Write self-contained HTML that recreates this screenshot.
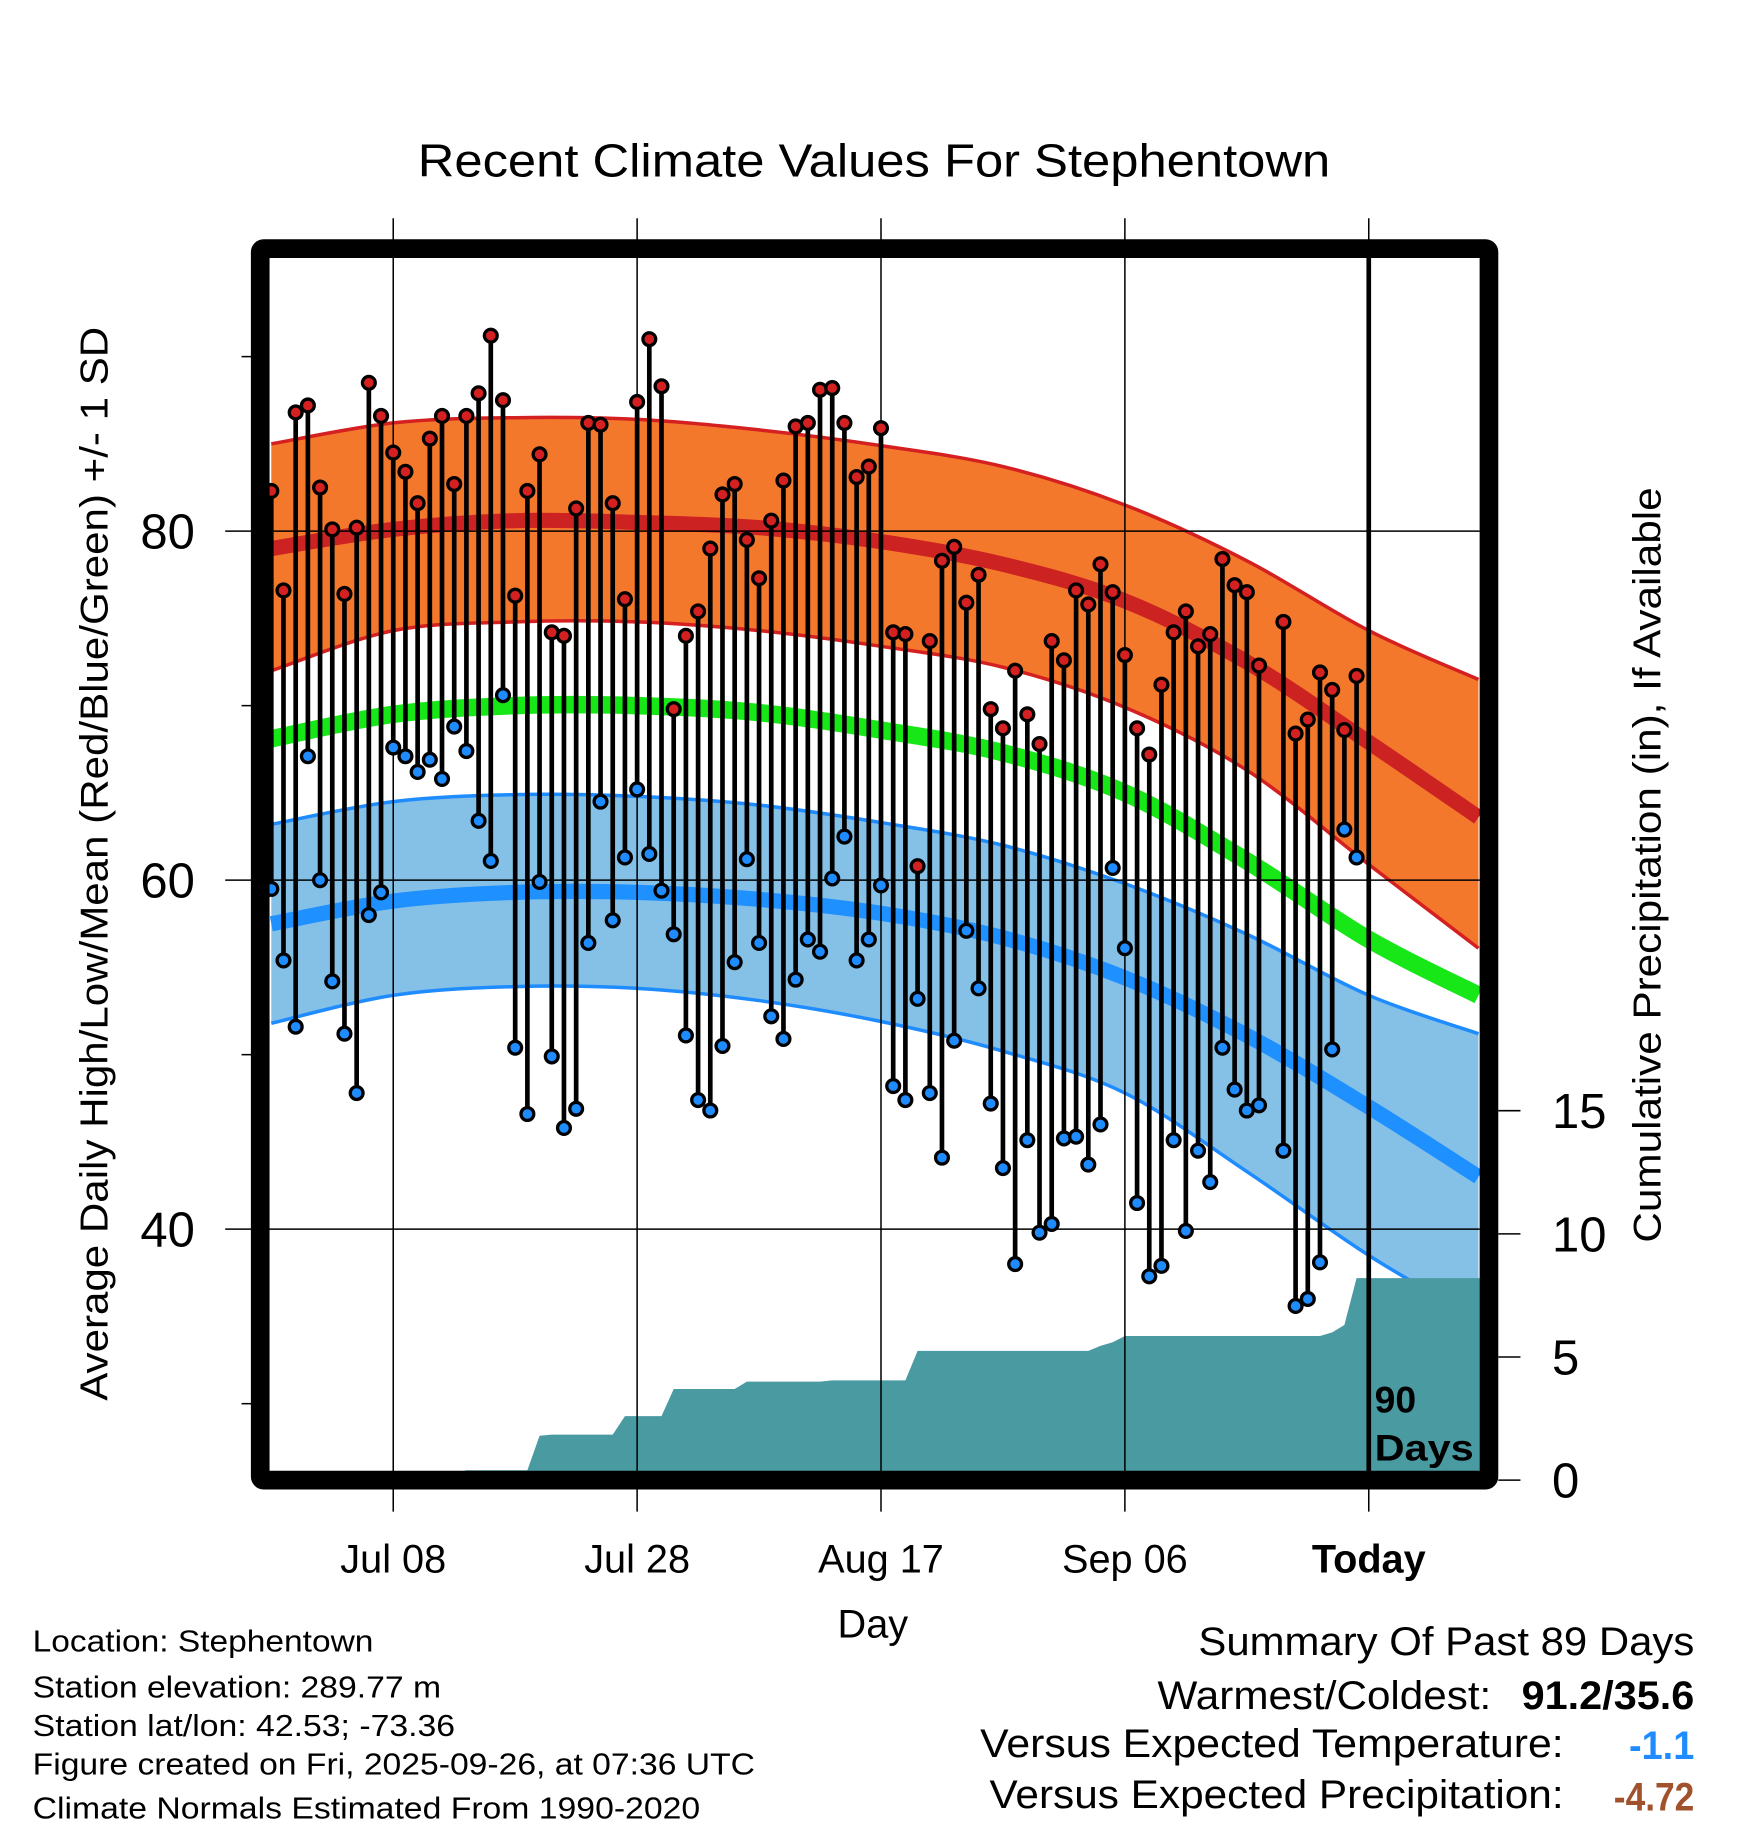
<!DOCTYPE html>
<html><head><meta charset="utf-8"><style>
html,body{margin:0;padding:0;background:#fff;}
svg{display:block;font-family:"Liberation Sans",sans-serif;}
</style></head><body>
<svg id="chart" width="1748" height="1828" viewBox="0 0 1498 1566" preserveAspectRatio="none" xmlns="http://www.w3.org/2000/svg">
<g id="bands"></g><g id="precip"></g><g id="grid"></g><g id="stems"></g><g id="frame"></g><g id="labels"></g>
</svg>
<script>
// ---- data ----
const highs=[82.3,76.6,86.8,87.2,82.5,80.1,76.4,80.2,88.5,86.6,84.5,83.4,81.6,85.3,86.6,82.7,86.6,87.9,91.2,87.5,76.3,82.3,84.4,74.2,74.0,81.3,86.2,86.1,81.6,76.1,87.4,91.0,88.3,69.8,74.0,75.4,79.0,82.1,82.7,79.5,77.3,80.6,82.9,86.0,86.2,88.1,88.2,86.2,83.1,83.7,85.9,74.2,74.1,60.8,73.7,78.3,79.1,75.9,77.5,69.8,68.7,72.0,69.5,67.8,73.7,72.6,76.6,75.8,78.1,76.5,72.9,68.7,67.2,71.2,74.2,75.4,73.4,74.1,78.4,76.9,76.5,72.3,null,74.8,68.4,69.2,71.9,70.9,68.6,71.7];
const lows=[59.5,55.4,51.6,67.1,60.0,54.2,51.2,47.8,58.0,59.3,67.6,67.1,66.2,66.9,65.8,68.8,67.4,63.4,61.1,70.6,50.4,46.6,59.9,49.9,45.8,46.9,56.4,64.5,57.7,61.3,65.2,61.5,59.4,56.9,51.1,47.4,46.8,50.5,55.3,61.2,56.4,52.2,50.9,54.3,56.6,55.9,60.1,62.5,55.4,56.6,59.7,48.2,47.4,53.2,47.8,44.1,50.8,57.1,53.8,47.2,43.5,38.0,45.1,39.8,40.3,45.2,45.3,43.7,46.0,60.7,56.1,41.5,37.3,37.9,45.1,39.9,44.5,42.7,50.4,48.0,46.8,47.1,null,44.5,35.6,36.0,38.1,50.3,62.9,61.3];
const precip=[0,0,0,0,0,0,0,0,0,0,0,0,0,0,0,0,0.4,0.4,0.4,0.4,0.4,0.4,1.8,1.85,1.85,1.85,1.85,1.85,1.85,2.6,2.6,2.6,2.6,3.7,3.7,3.7,3.7,3.7,3.7,4.0,4.0,4.0,4.0,4.0,4.0,4.0,4.05,4.05,4.05,4.05,4.05,4.05,4.05,5.25,5.25,5.25,5.25,5.25,5.25,5.25,5.25,5.25,5.25,5.25,5.25,5.25,5.25,5.25,5.45,5.6,5.85,5.85,5.85,5.85,5.85,5.85,5.85,5.85,5.85,5.85,5.85,5.85,5.85,5.85,5.85,5.85,5.85,6.0,6.3,8.2];
const normDays=[-10,0,10,20,30,40,50,60,70,80,89];
const hiMean=[79.0,80.1,80.6,80.5,80.2,79.4,78.1,76.0,72.5,67.9,63.6];
const hiUpper=[85.0,86.2,86.5,86.4,85.8,84.9,83.7,81.5,78.3,74.3,71.5];
const hiLower=[72.0,74.3,74.8,74.8,74.3,73.4,72.2,69.9,66.3,60.9,56.1];
const avgMean=[68.1,69.5,70.0,70.0,69.6,68.6,67.3,65.0,61.1,56.6,53.4];
const loMean=[57.5,58.8,59.3,59.3,58.9,58.1,56.7,54.4,51.1,47.0,43.0];
const loUpper=[63.2,64.5,64.9,64.8,64.3,63.3,62.0,59.8,56.9,53.4,51.2];
const loLower=[51.8,53.4,53.9,53.8,53.1,51.9,50.2,47.8,43.3,38.5,34.8];
const xTickDays=[0,20,40,60,80];
const xTickLabels=["Jul 08","Jul 28","Aug 17","Sep 06","Today"];
const yTicks=[80,60,40];
const yMinor=[90,70,50,30];
const pTicks=[0,5,10,15];
const firstDay=-10; // Jun 28 relative to Jul 08

// ---- axes ----
const X=d=>337+d*10.45;
const Y=t=>455+(80-t)*14.95;
const P=p=>1268-p*21.1;
const L=230, R=1268, T=220, B=1262;
const NS="http://www.w3.org/2000/svg";
function mk(tag,attrs,parent){const e=document.createElementNS(NS,tag);for(const k in attrs)e.setAttribute(k,attrs[k]);parent.appendChild(e);return e;}
const gB=document.getElementById('bands'),gP=document.getElementById('precip'),gG=document.getElementById('grid'),gS=document.getElementById('stems'),gF=document.getElementById('frame'),gL=document.getElementById('labels');

function pts(arr){return normDays.map((d,i)=>[X(d),Y(arr[i])]);}
function curve(p){let s='M'+p[0][0]+','+p[0][1];for(let i=0;i<p.length-1;i++){const p0=p[Math.max(i-1,0)],p1=p[i],p2=p[i+1],p3=p[Math.min(i+2,p.length-1)];s+=` C${p1[0]+(p2[0]-p0[0])/6},${p1[1]+(p2[1]-p0[1])/6} ${p2[0]-(p3[0]-p1[0])/6},${p2[1]-(p3[1]-p1[1])/6} ${p2[0]},${p2[1]}`;}return s;}
function band(up,lo,fill,edge,name){
  const a=pts(up),b=pts(lo).reverse();
  const back=curve(b).replace(/^M/,'L');
  const e=mk('path',{d:curve(a)+' '+back+' Z',fill:fill,stroke:'none'},gB);
  
  
  [up,lo].forEach((arr,k)=>{const l=mk('path',{d:curve(pts(arr)),fill:'none',stroke:edge,'stroke-width':3},gB);
    
    });
}
function line(arr,color,w,name){const e=mk('path',{d:curve(pts(arr)),fill:'none',stroke:color,'stroke-width':w},gB);
  
  }
band(hiUpper,hiLower,'#f4782c','#d42020','normal-high');
line(hiMean,'#cd2222',13,'normal-high-line');
line(avgMean,'#17e617',15,'normal-mean-line');
band(loUpper,loLower,'#85c0e6','#1e8cff','normal-low');
line(loMean,'#1e90ff',13,'normal-low-line');

// precip area
let pd='M'+X(firstDay)+','+B;
precip.forEach((v,i)=>{pd+=' L'+X(firstDay+i)+','+Math.min(P(v),B);});
pd+=' L'+R+','+P(precip[precip.length-1])+' L'+R+','+B+' Z';
const pa=mk('path',{d:pd,fill:'#4a9aa2'},gP);



// grid
yTicks.forEach(t=>{const l=mk('line',{x1:193,x2:R,y1:Y(t),y2:Y(t),stroke:'#000','stroke-width':1.3},gG);
  
  });
yMinor.forEach(t=>{const l=mk('line',{x1:207,x2:216,y1:Y(t),y2:Y(t),stroke:'#000','stroke-width':1.3},gG);
  
  });
xTickDays.forEach((d,i)=>{const l=mk('line',{x1:X(d),x2:X(d),y1:187,y2:1295,stroke:'#000','stroke-width':1.3},gG);
  
  });
pTicks.forEach(p=>{const l=mk('line',{x1:1284,x2:1303,y1:P(p),y2:P(p),stroke:'#000','stroke-width':1.3},gG);
  
  });

// stems and dots
highs.forEach((h,i)=>{
  if(h==null)return;const lo=lows[i];const x=X(firstDay+i);
  const s=mk('line',{x1:x,x2:x,y1:Y(h),y2:Y(lo),stroke:'#000','stroke-width':4},gS);
  
  
});
highs.forEach((h,i)=>{
  if(h==null)return;const x=X(firstDay+i);
  const c1=mk('circle',{cx:x,cy:Y(h),r:5.5,fill:'#d42020',stroke:'#000','stroke-width':2.8},gS);
  
  
  const c2=mk('circle',{cx:x,cy:Y(lows[i]),r:5.5,fill:'#1e8cff',stroke:'#000','stroke-width':2.8},gS);
  
  
});

// today line & frame
const tl=mk('line',{x1:X(80),x2:X(80),y1:T,y2:B,stroke:'#000','stroke-width':4},gF);


const fr=mk('rect',{x:223,y:213,width:1053,height:1055,fill:'none',stroke:'#000','stroke-width':16,rx:3},gF);



function txt(s,attrs,name){const e=mk('text',attrs,gL);e.textContent=s;
  
  return e;}
yTicks.forEach(t=>txt(String(t),{x:167,y:Y(t)+15,'font-size':42,'text-anchor':'end'},'y-tick-label-'+t));
pTicks.forEach(p=>txt(String(p),{x:1330,y:P(p)+15,'font-size':42},'precip-tick-label-'+p));
xTickDays.forEach((d,i)=>txt(xTickLabels[i],{x:X(d),y:1347,'font-size':34,'text-anchor':'middle','font-weight':i==4?'bold':'normal'},'x-tick-label-'+i));
</script>
<div style="position:absolute;left:0;top:0;width:1748px;height:1828px;pointer-events:none">
<svg width="1748" height="1828" viewBox="0 0 1498 1566" preserveAspectRatio="none" style="font-family:'Liberation Sans',sans-serif">
<text x="358" y="151" font-size="40" textLength="782" lengthAdjust="spacingAndGlyphs">Recent Climate Values For Stephentown</text>
<text transform="translate(92,740) rotate(-90)" font-size="33" text-anchor="middle" textLength="920" lengthAdjust="spacingAndGlyphs">Average Daily High/Low/Mean (Red/Blue/Green) +/- 1 SD</text>
<text transform="translate(1423,741) rotate(-90)" font-size="33" text-anchor="middle" textLength="647" lengthAdjust="spacingAndGlyphs">Cumulative Precipitation (in), If Available</text>
<text x="748" y="1403" font-size="34" text-anchor="middle">Day</text>
<text x="1178" y="1210" font-size="32" font-weight="bold">90</text>
<text x="1178" y="1251" font-size="32" font-weight="bold" textLength="85" lengthAdjust="spacingAndGlyphs">Days</text>
<g font-size="26">
<text x="28" y="1415" textLength="292" lengthAdjust="spacingAndGlyphs">Location: Stephentown</text>
<text x="28" y="1454" textLength="350" lengthAdjust="spacingAndGlyphs">Station elevation: 289.77 m</text>
<text x="28" y="1487" textLength="362" lengthAdjust="spacingAndGlyphs">Station lat/lon: 42.53; -73.36</text>
<text x="28" y="1520" textLength="619" lengthAdjust="spacingAndGlyphs">Figure created on Fri, 2025-09-26, at 07:36 UTC</text>
<text x="28" y="1558" textLength="572" lengthAdjust="spacingAndGlyphs">Climate Normals Estimated From 1990-2020</text>
</g>
<g font-size="34">
<text x="1027" y="1418" textLength="425" lengthAdjust="spacingAndGlyphs">Summary Of Past 89 Days</text>
<text x="992" y="1464" textLength="286" lengthAdjust="spacingAndGlyphs">Warmest/Coldest:</text>
<text x="1304" y="1464" font-weight="bold" textLength="148" lengthAdjust="spacingAndGlyphs">91.2/35.6</text>
<text x="840" y="1505" textLength="500" lengthAdjust="spacingAndGlyphs">Versus Expected Temperature:</text>
<text x="1396" y="1507" font-weight="bold" fill="#1e8cff" textLength="56" lengthAdjust="spacingAndGlyphs">-1.1</text>
<text x="848" y="1549" textLength="492" lengthAdjust="spacingAndGlyphs">Versus Expected Precipitation:</text>
<text x="1383" y="1551" font-weight="bold" fill="#a0522d" textLength="69" lengthAdjust="spacingAndGlyphs">-4.72</text>
</g>
</svg></div>
</body></html>
